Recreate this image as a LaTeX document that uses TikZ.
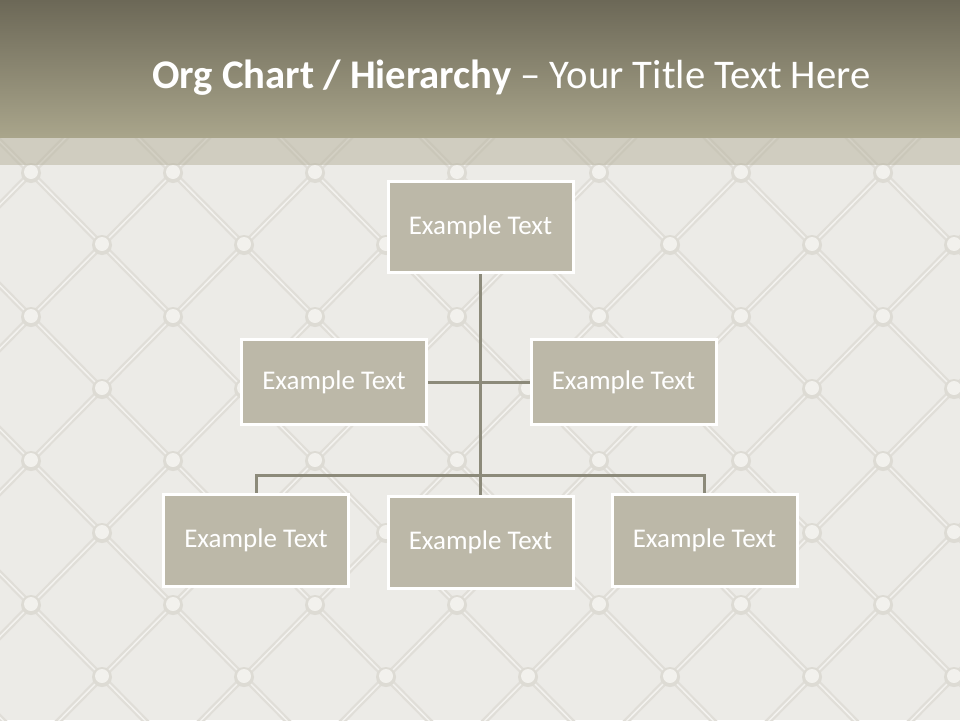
\documentclass[tikz,border=0pt]{standalone}
\usepackage{fontspec}
\setmainfont{Carlito}
\definecolor{bgc}{HTML}{ECEBE7}
\definecolor{seamc}{HTML}{E0DED8}
\definecolor{seamhi}{HTML}{F3F2EF}
\definecolor{btnc}{HTML}{F2F1ED}
\definecolor{btnsh}{HTML}{DDDBD4}
\definecolor{bandc}{HTML}{B9B5A1}
\definecolor{titletop}{HTML}{6C6857}
\definecolor{titlebot}{HTML}{A9A58B}
\definecolor{boxfill}{HTML}{BCB8A8}
\definecolor{linkc}{HTML}{8C8A7A}
\pgfdeclarelayer{pat}
\pgfdeclarelayer{conn}
\pgfsetlayers{pat,conn,main}
\begin{document}
\begin{tikzpicture}[x=1pt,y=-1pt,
  box/.style={draw=white, line width=3pt, fill=boxfill, text=white,
    font=\fontsize{27}{32}\selectfont, inner sep=0pt,
    minimum width=185pt, minimum height=88pt},
  link/.style={draw=linkc, line width=3pt},
  seam/.style={draw=seamc, line width=6pt},
  seamline/.style={draw=seamhi, line width=1.5pt},
  ]
\useasboundingbox (0,0) rectangle (960,720);

% org chart boxes
\node[box, minimum height=91pt] (top) at (480.5,227) {Example Text};
\node[box, minimum height=85pt] (ml) at (334,382) {Example Text};
\node[box, minimum height=85pt] (mr) at (623.5,382) {Example Text};
\node[box, minimum height=92pt] (bl) at (256,540.5) {Example Text};
\node[box, minimum height=92pt] (bm) at (480.5,542) {Example Text};
\node[box, minimum height=92pt] (br) at (704.5,540.5) {Example Text};
\coordinate (bar) at (480,475);

\begin{pgfonlayer}{conn}
  \draw[link] (top.south) -- (bm.north);
  \draw[link] (ml.east) -- (mr.west);
  \draw[link] (bl.north) -- (bl.north |- bar) -- (br.north |- bar) -- (br.north);
\end{pgfonlayer}

\begin{pgfonlayer}{pat}
  \fill[bgc] (0,0) rectangle (960,720);
  \begin{scope}
    \clip (0,137) rectangle (960,720);
    \foreach \k in {-1,...,14} {
      \foreach \m in {-1,...,8} {
        \pgfmathtruncatemacro\pp{mod(\k+\m+20,2)}
        \ifnum\pp=0
          \draw[seam] (31+71*\k,173+72*\m) -- (102+71*\k,245+72*\m);
          \draw[seam] (31+71*\k,173+72*\m) -- (102+71*\k,101+72*\m);
          \draw[seamline] (31+71*\k,173+72*\m) -- (102+71*\k,245+72*\m);
          \draw[seamline] (31+71*\k,173+72*\m) -- (102+71*\k,101+72*\m);
        \fi
      }
    }
    \foreach \k in {-1,...,14} {
      \foreach \m in {-1,...,8} {
        \pgfmathtruncatemacro\pp{mod(\k+\m+20,2)}
        \ifnum\pp=0
          \fill[btnsh] (31+71*\k,173+72*\m) circle (10);
          \fill[btnc] (31+71*\k,172+72*\m) circle (7);
        \fi
      }
    }
    \fill[bandc, opacity=0.55] (0,137) rectangle (960,165);
  \end{scope}
  \shade[top color=titletop, bottom color=titlebot] (0,0) rectangle (960,137);
\end{pgfonlayer}

\node[anchor=base west, text=white, inner sep=0pt,
  font=\fontsize{40.7}{48}\selectfont] (title) at (152,88)
  {\textbf{Org Chart / Hierarchy} – Your Title Text Here};
\end{tikzpicture}
\end{document}
